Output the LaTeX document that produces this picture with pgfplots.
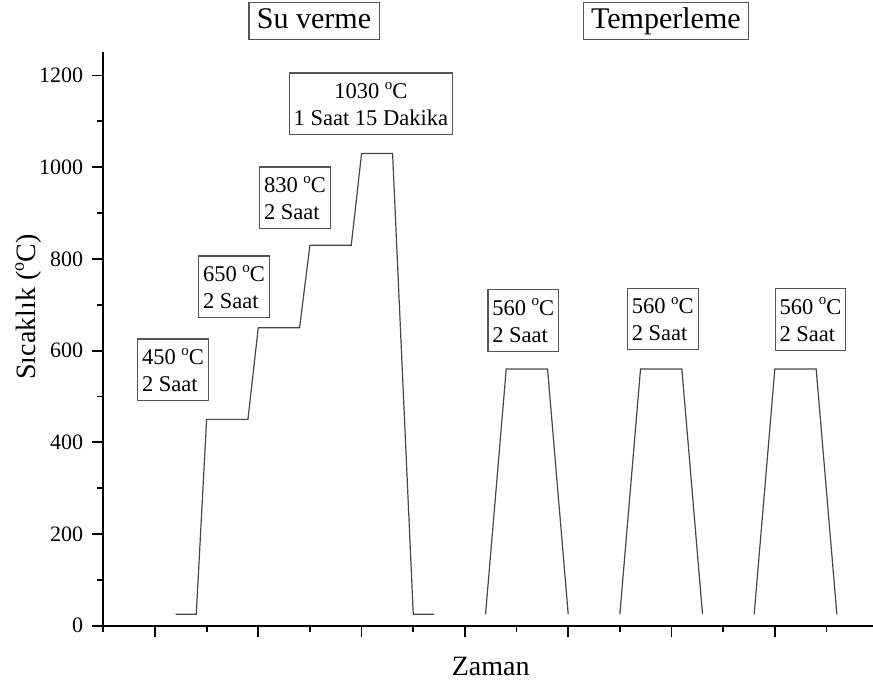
\documentclass[border=0pt]{standalone}
\usepackage{pgfplots}
\pgfplotsset{compat=1.18}
\usepackage{fontspec}
\setmainfont{Liberation Serif}
\definecolor{curve}{RGB}{70,70,70}
\definecolor{boxc}{RGB}{85,85,85}
\newcommand\sdeg{\raisebox{0.42em}{\fontsize{7.5}{8}\selectfont o}}
\newcommand\ldeg{\raisebox{0.42em}{\fontsize{9}{10}\selectfont o}}
\tikzset{
  lbl/.style={draw=boxc, line width=0.6pt, align=left, inner xsep=2.2pt, inner ysep=4.5pt,
    font=\fontsize{11.25}{13.5}\selectfont, fill=white},
  ttl/.style={draw=boxc, line width=0.6pt, inner xsep=4pt, inner ysep=2.5pt,
    font=\fontsize{15}{17}\selectfont, text height=10.5pt, text depth=3pt},
}
\begin{document}
\begin{tikzpicture}
\path[use as bounding box] (-51.65pt,-30.65pt) rectangle (384.85pt,312.85pt);
\begin{axis}[
  at={(0,0)}, anchor=south west,
  scale only axis, width=384.85pt, height=287pt,
  xmin=0, xmax=14.9, ymin=0, ymax=1252,
  axis x line=bottom, axis y line=left,
  axis line style={-, line width=1pt, black},
  clip=false,
  xtick={1,3,...,13}, minor xtick={0,2,...,14}, xticklabels={},
  ytick={0,200,...,1200}, minor ytick={100,300,...,1100},
  tick align=outside,
  major tick length=5.5pt, minor tick length=3pt,
  every tick/.style={black, line width=0.9pt},
  /pgf/number format/assume math mode=true,
  /pgf/number format/1000 sep={},
  tick label style={font=\fontsize{11}{13}\selectfont},
  yticklabel style={xshift=-1pt},
  xlabel={Zaman},
  xlabel style={at={(axis cs:7.5,-108)}, anchor=base, font=\fontsize{14}{16}\selectfont},
  ylabel={Sıcaklık (\ldeg C)},
  ylabel style={at={(axis cs:-1.45,695)}, anchor=center, font=\fontsize{14}{16}\selectfont},
]
\addplot[curve, line width=0.6pt] coordinates {
  (1.4,25) (1.8,25) (2,450) (2.8,450) (3,650) (3.8,650) (4,830) (4.8,830)
  (5,1030) (5.6,1030) (6,25) (6.4,25)};
\addplot[curve, line width=0.6pt] coordinates {
  (7.4,25) (7.8,560) (8.6,560) (9.0,25)};
\addplot[curve, line width=0.6pt] coordinates {
  (10.0,25) (10.4,560) (11.2,560) (11.6,25)};
\addplot[curve, line width=0.6pt] coordinates {
  (12.6,25) (13.0,560) (13.8,560) (14.2,25)};

\node[ttl] at (axis cs:4.08,1319) {Su verme};
\node[ttl] at (axis cs:10.89,1319) {Temperleme};
\node[lbl, align=center] at (axis cs:5.18,1138) {1030 \sdeg C\\1 Saat 15 Dakika};
\node[lbl] at (axis cs:3.71,933) {830 \sdeg C\\2 Saat};
\node[lbl] at (axis cs:2.53,739) {650 \sdeg C\\2 Saat};
\node[lbl] at (axis cs:1.35,558) {450 \sdeg C\\2 Saat};
\node[lbl] at (axis cs:8.13,666) {560 \sdeg C\\2 Saat};
\node[lbl] at (axis cs:10.83,669) {560 \sdeg C\\2 Saat};
\node[lbl] at (axis cs:13.69,668) {560 \sdeg C\\2 Saat};
\end{axis}
\end{tikzpicture}
\end{document}
